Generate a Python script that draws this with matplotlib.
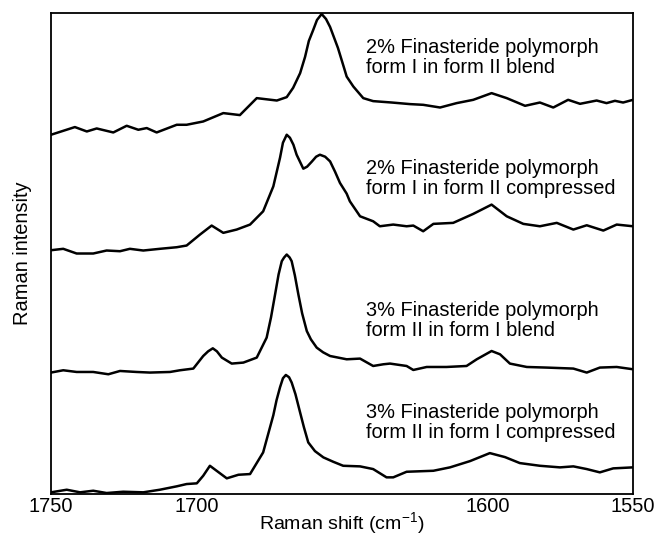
import matplotlib.pyplot as plt

plt.rcParams['font.family'] = ['Liberation Sans', 'DejaVu Sans']
plt.rcParams['mathtext.fontset'] = 'custom'
plt.rcParams['mathtext.rm'] = 'Liberation Sans'
plt.rcParams['mathtext.it'] = 'Liberation Sans'

# spectra (x in cm-1, y in arbitrary stacked units)
blend_2_x = [1750, 1741.8, 1737.7, 1734.3, 1728.6, 1724.0, 1720.0, 1717.1, 1713.7, 1706.8,
             1703.4, 1697.7, 1690.8, 1685.1, 1679.3, 1672.4, 1669.0, 1666.8, 1664.4, 1662.7,
             1661.4, 1659.9, 1658.6, 1657.0, 1655.5, 1654.1, 1651.4, 1649.3, 1648.4, 1646.1,
             1642.7, 1639.3, 1632.9, 1626.6, 1622.1, 1616.3, 1610.6, 1604.9, 1598.6, 1593.4,
             1587.1, 1582.0, 1577.4, 1572.3, 1568.2, 1562.5, 1559.1, 1556.2, 1553.4, 1550]
blend_2_y = [359, 366.7, 362.3, 365.3, 361.3, 368, 364, 365.7, 361.3, 369,
             369, 372.3, 380.7, 378.7, 395.7, 393.3, 396.7, 406, 420.7, 437,
             453, 464, 474, 480, 475, 467, 446, 426, 417.3, 407.3,
             395.7, 392.7, 391.3, 389.7, 389, 386.3, 390.7, 394, 400.7, 395.7,
             388, 391.3, 386.3, 394, 390, 393.3, 390.7, 393, 391.3, 394]

comp_2_x = [1750, 1745.8, 1741.2, 1735.5, 1730.9, 1726.3, 1722.9, 1718.3, 1712.6, 1706.8,
            1703.4, 1698.8, 1694.8, 1690.8, 1686.2, 1681.6, 1677.1, 1673.6, 1671.3,
            1670.3, 1669.0, 1667.9, 1666.7, 1665.6, 1663.3, 1662.0, 1660.4, 1658.9, 1657.6,
            1655.8, 1654.1, 1652.4, 1650.7, 1648.4, 1647.3, 1643.8, 1639.3, 1637.0, 1632.4,
            1627.8, 1625.5, 1622.1, 1618.6, 1611.8, 1604.9, 1598.6, 1593.4, 1587.7, 1582.0,
            1576.2, 1570.5, 1565.9, 1560.2, 1555.6, 1550]
comp_2_y = [243.3, 244.7, 240, 240, 243, 242.3, 244.7, 243, 244.7, 246.3,
            248, 259, 268, 260.7, 264, 269, 282.3, 307.3, 336,
            351, 359, 356, 349, 339, 325, 327, 332, 337, 339,
            337, 332.3, 322, 310.7, 300, 292.3, 277.3, 272.3, 267.3, 269,
            267.3, 268, 262.3, 269.7, 270.7, 279.7, 289, 277.3, 269.7, 267.3,
            270.7, 264, 268.3, 263, 269, 267.3]

blend_3_x = [1750, 1745.8, 1741.2, 1735.5, 1730.3, 1726.3, 1720.6, 1716.0, 1709.1, 1705.7,
             1701.1, 1697.7, 1696.0, 1694.4, 1693.0, 1691.3, 1687.9, 1683.9, 1679.3, 1675.9,
             1674.4, 1673.0, 1671.8, 1670.7, 1669.9, 1669.0, 1668.0, 1667.3, 1666.2, 1665.0,
             1663.7, 1662.1, 1660.7, 1658.7, 1656.5, 1654.1, 1648.4, 1643.8, 1639.3, 1635.8,
             1633.5, 1627.8, 1625.5, 1620.9, 1614.1, 1607.2, 1603.7, 1598.6, 1595.7, 1592.3,
             1586.5, 1579.7, 1570.5, 1565.9, 1561.4, 1555.6, 1550]
blend_3_y = [120.7, 123, 121.3, 121.3, 119, 122.3, 121.3, 120.7, 121.3, 123,
             124.7, 137.3, 142, 145, 142, 135.7, 129.7, 130.7, 135.7, 155.7,
             176, 199, 219, 232.3, 236, 239, 236, 232.3, 218, 199,
             180, 162.3, 154, 145.7, 141, 137.3, 134, 134.7, 127.3, 129,
             129.7, 127.3, 123.3, 126.3, 126.3, 127.3, 134, 142.3, 139, 129.7,
             126.3, 125.7, 124.7, 120.7, 125.7, 126.3, 124]

comp_3_x = [1750, 1744.6, 1740.0, 1735.5, 1730.9, 1725.2, 1718.3, 1712.6, 1706.8, 1703.4,
            1699.9, 1697.7, 1695.4, 1693.1, 1689.6, 1685.6, 1681.6, 1677.1,
            1673.6, 1672.5, 1671.3, 1670.3, 1669.3, 1668.2, 1667.3, 1666.0, 1664.4, 1663.1,
            1661.6, 1659.3, 1656.4, 1653.0, 1649.6, 1643.8, 1639.3, 1634.7, 1632.4, 1627.8,
            1618.6, 1612.9, 1606.0, 1599.2, 1594.0, 1588.9, 1582.0, 1575.1, 1570.5, 1565.9,
            1561.4, 1556.8, 1550]
comp_3_y = [0.7, 3.3, 0.7, 2.3, 0, 1.3, 0.7, 3.3, 6.7, 9,
            9.7, 17.3, 27.3, 22.3, 14.7, 18.3, 19, 40.7,
            78, 93, 106, 115, 118.3, 116, 110.7, 99, 80.7, 66,
            50.7, 42, 35.7, 31.3, 27.3, 26.7, 24, 15.7, 15.7, 21.3,
            22.3, 25.7, 32, 40, 36, 30, 27.3, 25.7, 26.7, 24,
            20.7, 24.7, 25.7]

labels = ['2% Finasteride polymorph\nform I in form II blend',
          '2% Finasteride polymorph\nform I in form II compressed',
          '3% Finasteride polymorph\nform II in form I blend',
          '3% Finasteride polymorph\nform II in form I compressed']
label_y = [0.948, 0.697, 0.401, 0.19]

fig = plt.figure(figsize=(6.6, 5.35), dpi=100)
ax = fig.add_axes([0.0773, 0.0766, 0.8818, 0.8991])

for xs, ys in [(blend_2_x, blend_2_y), (comp_2_x, comp_2_y),
               (blend_3_x, blend_3_y), (comp_3_x, comp_3_y)]:
    ax.plot(xs, ys, color='black', lw=1.8, solid_joinstyle='round')

for txt, ty in zip(labels, label_y):
    ax.text(0.541, ty, txt, transform=ax.transAxes, ha='left', va='top',
            fontsize=14.4, linespacing=1.08)

ax.set_xlim(1750, 1550)
ax.set_ylim(-1, 481)
ax.set_xticks([1750, 1700, 1600, 1550])
ax.set_yticks([])
ax.tick_params(axis='x', length=0, pad=2, labelsize=14.4)
ax.set_xlabel('Raman shift (cm$^{-1}$)', fontsize=14, labelpad=-4)
ax.set_ylabel('Raman intensity', fontsize=14.4, labelpad=14)
for s in ax.spines.values():
    s.set_linewidth(1.3)

fig.savefig('out.png', dpi=100)
